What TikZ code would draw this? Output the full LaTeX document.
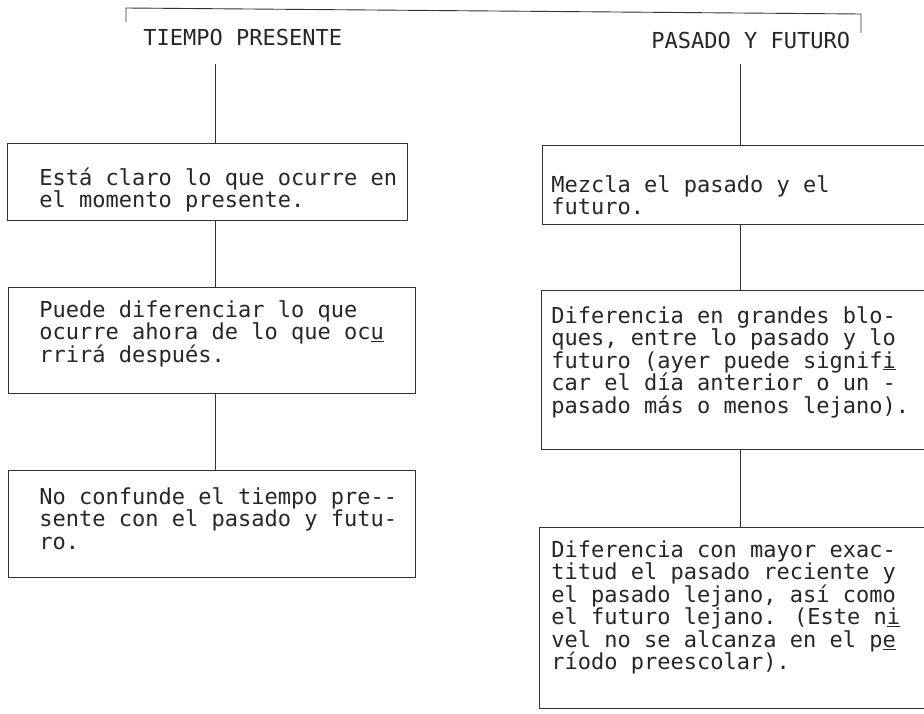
\documentclass[tikz,border=0pt]{standalone}
\usepackage{fontspec}
\newfontfamily\typew{DejaVu Sans Mono}

\begin{document}
\begin{tikzpicture}[x=1pt, y=-1pt, line width=0.9pt, draw=black!80,
  every node/.style={font=\typew\fontsize{22}{22.5}\selectfont, text=black!85},
  box/.style={draw=black!80, rectangle, inner sep=0pt},
  txt/.style={anchor=west, align=left, inner sep=0pt},
  title/.style={anchor=west, inner sep=0pt}]
  \useasboundingbox (0,0) rectangle (924,714);
  \clip (0,0) rectangle (924,714);

  % Headings and bracket
  \node[title] (tp) at (143,37) {TIEMPO PRESENTE};
  \node[title] (pf) at (651,40) {PASADO Y FUTURO};
  \coordinate (bl) at (126,22);
  \coordinate (br) at (861,33);
  \draw (bl) -- (126,8) -- (861,14) -- (br);

  % Boxes (left column)
  \node[box, minimum width=400pt, minimum height=77pt] (l1) at (207,181.5) {};
  \node[box, minimum width=407pt, minimum height=106pt] (l2) at (211.5,340) {};
  \node[box, minimum width=407pt, minimum height=107pt] (l3) at (211.5,523.5) {};

  % Boxes (right column, cut off at the edge)
  \node[box, minimum width=400pt, minimum height=79pt] (r1) at (742,184.5) {};
  \node[box, minimum width=400pt, minimum height=159pt] (r2) at (741,369.5) {};
  \node[box, minimum width=400pt, minimum height=181pt] (r3) at (739,617.5) {};

  % Texts
  \node[txt] (l1t) at (39,190) {Está claro lo que ocurre en\\el momento presente.};
  \node[txt] (l2t) at (39,333.5) {Puede diferenciar lo que\\ocurre ahora de lo que oc\underline{u}\\rrirá después.};
  \node[txt] (l3t) at (39,518.5) {No confunde el tiempo pre-{}-\\sente con el pasado y futu-\\ro.};
  \node[txt] (r1t) at (551,195) {Mezcla el pasado y el\\futuro.};
  \node[txt] (r2t) at (551,362) {Diferencia en grandes blo-\\ques, entre lo pasado y lo\\futuro (ayer puede signif\underline{i}\\car el día anterior o un -\\pasado más o menos lejano).};
  \node[txt] (r3t) at (551,607.5) {Diferencia con mayor exac-\\titud el pasado reciente y\\el pasado lejano, así como\\el futuro lejano. (Este n\underline{i}\\vel no se alcanza en el p\underline{e}\\ríodo preescolar).};

  % Connectors
  \coordinate (tpfoot) at (215,64);
  \coordinate (pffoot) at (740,64);
  \draw (tpfoot) -- (tpfoot |- l1.north);
  \draw (l1.south -| tpfoot) -- (l2.north -| tpfoot);
  \draw (l2.south -| tpfoot) -- (l3.north -| tpfoot);
  \draw (pffoot) -- (pffoot |- r1.north);
  \draw (r1.south -| pffoot) -- (r2.north -| pffoot);
  \draw (r2.south -| pffoot) -- (r3.north -| pffoot);
\end{tikzpicture}
\end{document}
